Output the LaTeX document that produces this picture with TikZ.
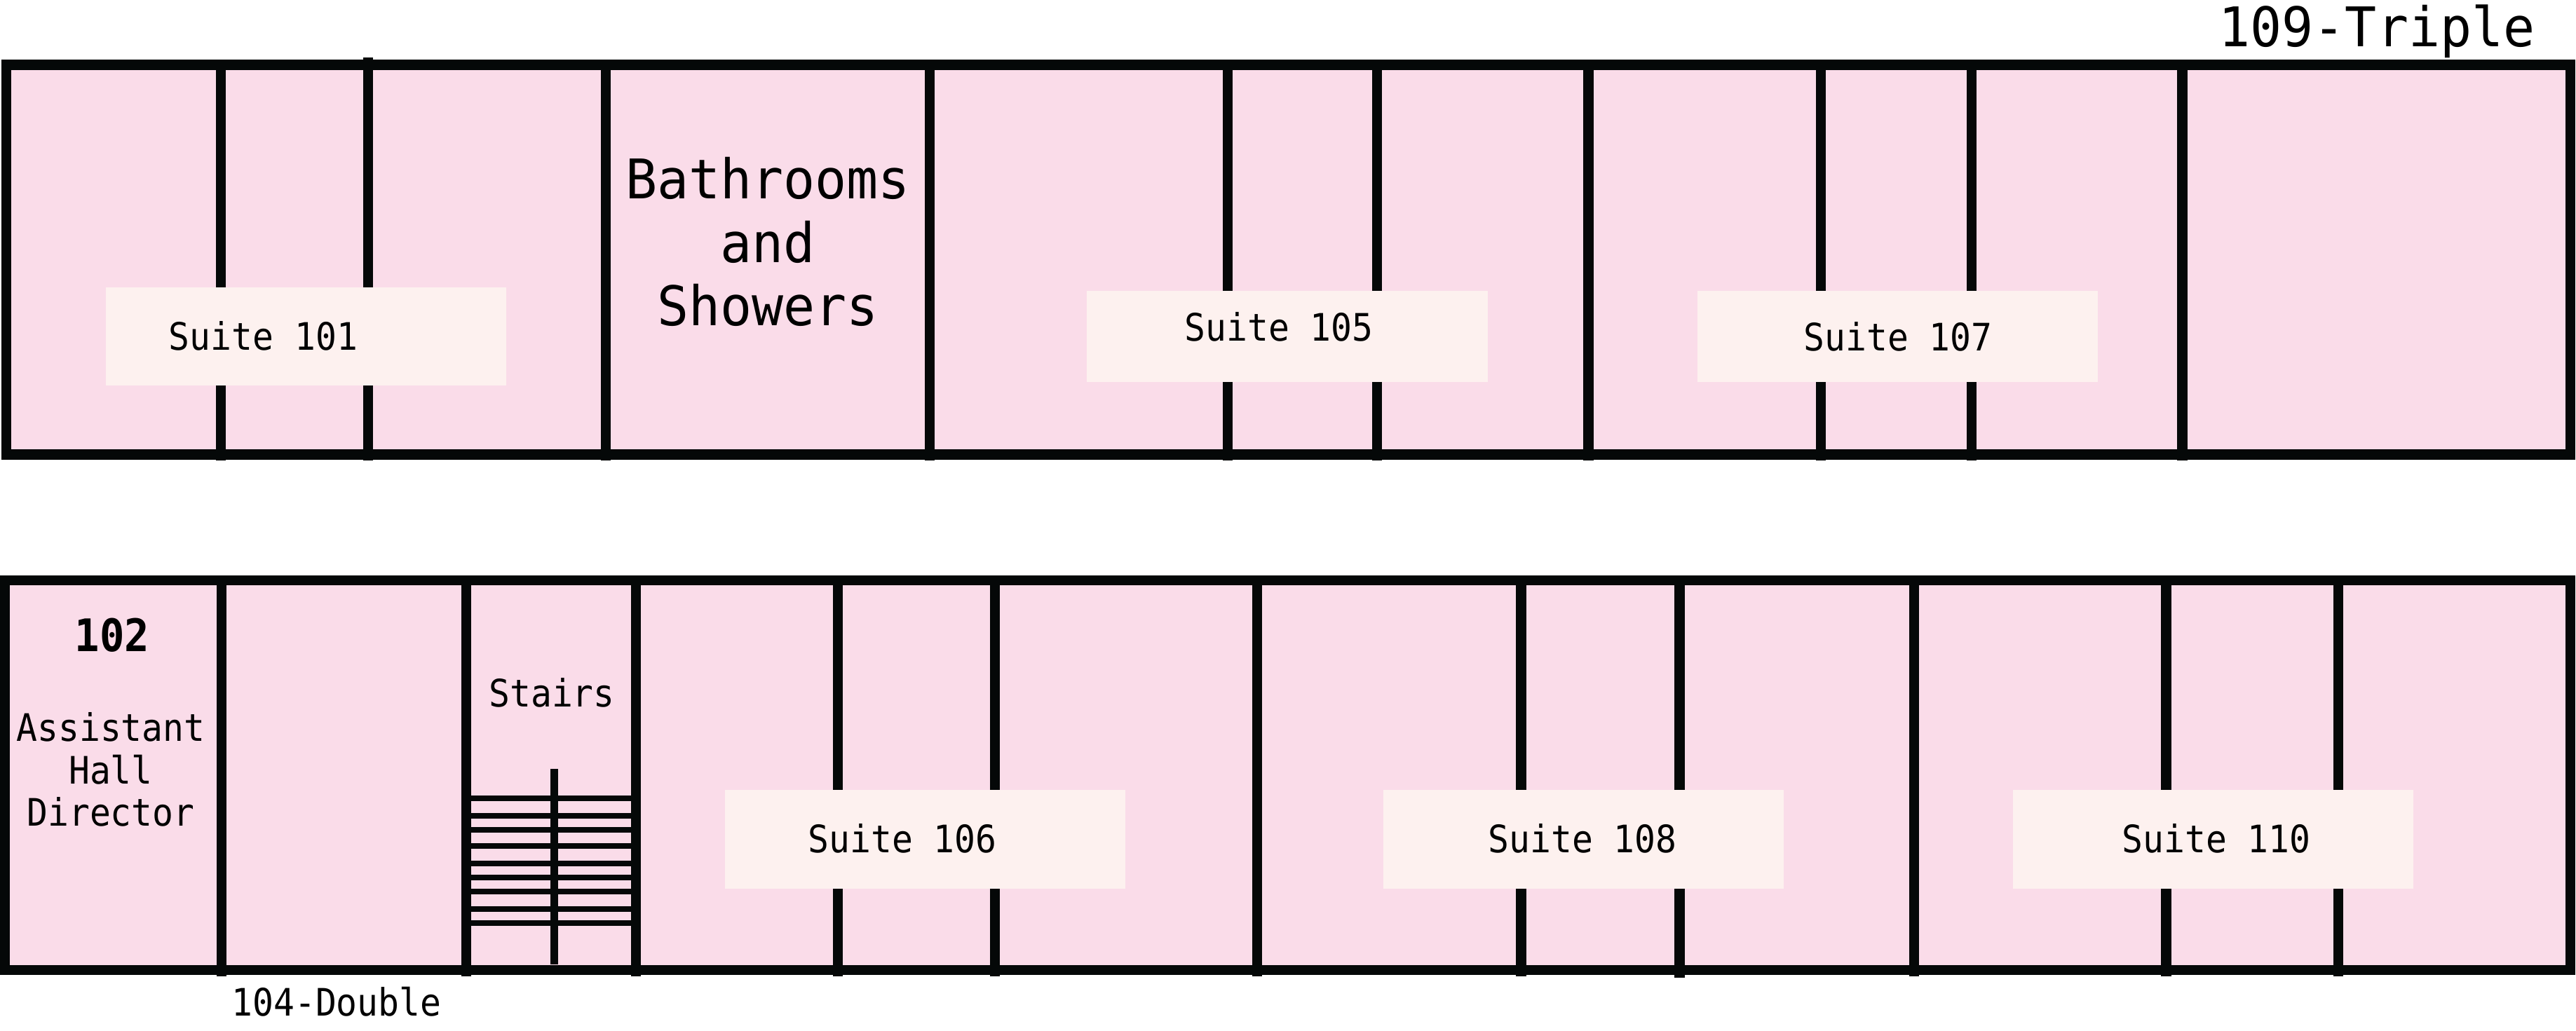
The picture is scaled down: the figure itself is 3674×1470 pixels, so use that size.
\documentclass[tikz,border=0pt]{standalone}
\usepackage{fontspec}
\setmainfont[FakeStretch=0.96]{DejaVu Sans Mono}
\newfontfamily\narrowmono[FakeStretch=0.92]{DejaVu Sans Mono}
\definecolor{roompink}{HTML}{FADCE9}
\definecolor{labelbg}{HTML}{FDF1EF}
\definecolor{wall}{HTML}{050808}
\tikzset{
  x=0.25pt,y=-0.25pt,
  outerwall/.style={draw=wall,fill=roompink,line width=3.6pt,line join=miter},
  partition/.style={draw=wall,line width=3.6pt},
  rung/.style={draw=wall,line width=2pt},
  rail/.style={draw=wall,line width=2.7pt},
  suitebox/.style={fill=labelbg,draw=none},
  lbl/.style={inner sep=0pt,anchor=base,text=black,align=center},
  bigtxt/.style={lbl,font=\fontsize{19.5pt}{22.5pt}\selectfont},
  smalltxt/.style={lbl,font=\narrowmono\fontsize{13.5pt}{15pt}\selectfont},
}
\begin{document}
\begin{tikzpicture}
\useasboundingbox (0,0) rectangle (3674,1470);
% rooms
\draw[outerwall] (9,92.3) rectangle (3666,648.5);
\draw[outerwall] (7,828) rectangle (3666,1384);
% top partitions
\foreach \x in {315,864,1326,1751,1964,2265.5,2597,2812,3112.5}
  \draw[partition] (\x,85) -- (\x,657);
\draw[partition] (525,82) -- (525,657);
% bottom partitions
\foreach \x in {316,665,907,1195,1419,1793,2169.5,2730,3089.5,3335}
  \draw[partition] (\x,821) -- (\x,1393);
\draw[partition] (2395.5,821) -- (2395.5,1395);
% stairs
\foreach \y in {1139,1164,1184,1207,1232,1252,1272,1297,1317}
  \draw[rung] (664,\y) -- (912,\y);
\draw[rail] (790.5,1097) -- (790.5,1376);
% suite boxes
\fill[suitebox] (151,410) rectangle (722,550);
\fill[suitebox] (1550,415) rectangle (2122,545);
\fill[suitebox] (2421,415) rectangle (2992,545);
\fill[suitebox] (1034,1127) rectangle (1605,1268);
\fill[suitebox] (1973,1127) rectangle (2544,1268);
\fill[suitebox] (2871,1127) rectangle (3442,1268);
% labels
\node[bigtxt] (triple) at (3390,66) {109-Triple};
\node[bigtxt] (bath) at (1095,283.5) {Bathrooms};
\node[bigtxt] (and) at (1095,374) {and};
\node[bigtxt] (show) at (1095,464) {Showers};
\node[smalltxt] (s101) at (375.5,499) {Suite 101};
\node[smalltxt] (s105) at (1824,486) {Suite 105};
\node[smalltxt] (s107) at (2707,500) {Suite 107};
\node[smalltxt] (s106) at (1287,1216) {Suite 106};
\node[smalltxt] (s108) at (2257,1216) {Suite 108};
\node[smalltxt] (s110) at (3161,1216) {Suite 110};
\node[lbl,font=\narrowmono\fontsize{16pt}{18pt}\selectfont\bfseries] (r102) at (160,929.5) {102};
\node[smalltxt] (ahd1) at (158,1057.5) {Assistant};
\node[smalltxt] (ahd2) at (158,1118) {Hall};
\node[smalltxt] (ahd3) at (158,1178) {Director};
\node[smalltxt] (stairs) at (787,1008) {Stairs};
\node[smalltxt] (dbl) at (480,1449.5) {104-Double};
\end{tikzpicture}
\end{document}
